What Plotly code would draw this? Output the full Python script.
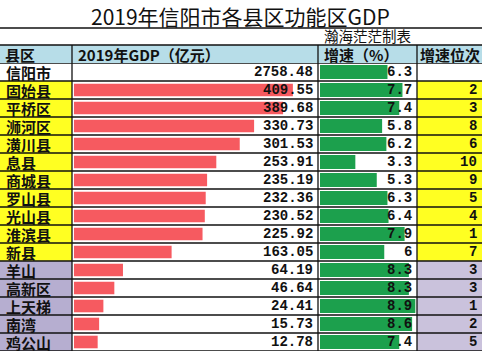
import plotly.graph_objects as go

# ---------------- data ----------------
regions = ["信阳市", "固始县", "平桥区", "浉河区", "潢川县", "息县", "商城县", "罗山县",
           "光山县", "淮滨县", "新县", "羊山", "高新区", "上天梯", "南湾", "鸡公山"]
gdp = [2758.48, 409.55, 389.68, 330.73, 301.53, 253.91, 235.19, 232.36,
       230.52, 225.92, 163.05, 64.19, 46.64, 24.41, 15.73, 12.78]
growth = [6.3, 7.7, 7.4, 5.8, 6.2, 3.3, 5.3, 6.3, 6.4, 7.9, 6.0, 8.3, 8.3, 8.9, 8.6, 7.4]
growth_rank = ["", "2", "3", "8", "6", "10", "9", "5", "4", "1", "7", "3", "3", "1", "2", "5"]
group = ["市"] + ["县"] * 10 + ["区"] * 5

title = "2019年信阳市各县区功能区GDP"
subtitle = "瀚海茫茫制表"
headers = ["县区", "2019年GDP（亿元）", "增速（%）", "增速位次"]

# ---------------- styling ----------------
W, H = 482, 352
col_edges = [0, 72, 318, 417, 482]
row_top, row_h = 63, 18
n = len(regions)

def px(x):
    return x / W

def py(y):
    return (H - y) / H

first_col_colors = {"市": "#FFFFFF", "县": "#FFFF22", "区": "#B6AED0"}
rank_col_colors = {"市": "#FFFFFF", "县": "#FFFF22", "区": "#CAC2DC"}
RED = "#F65A60"
GREEN = "#1CA04D"
BAR_BASE = -35.4  # excel data bars have a minimum length

CJK = "Noto Sans CJK SC"
MONO = "Liberation Mono"

fig = go.Figure()

# first column background cells
fig.add_trace(go.Bar(y=regions, x=[1] * n, orientation="h", width=1,
                     marker=dict(color=[first_col_colors[g] for g in group], line=dict(width=0)),
                     xaxis="x3", yaxis="y", hoverinfo="skip", showlegend=False))
# rank column background cells
fig.add_trace(go.Bar(y=regions, x=[1] * n, orientation="h", width=1,
                     marker=dict(color=[rank_col_colors[g] for g in group], line=dict(width=0)),
                     xaxis="x4", yaxis="y", hoverinfo="skip", showlegend=False))
# GDP data bars (city total has none)
fig.add_trace(go.Bar(y=regions,
                     x=[None if g == "市" else v - BAR_BASE for v, g in zip(gdp, group)],
                     base=BAR_BASE, orientation="h", width=0.7,
                     marker=dict(color=RED, line=dict(width=0)),
                     xaxis="x", yaxis="y", hoverinfo="skip", showlegend=False))
# growth data bars
fig.add_trace(go.Bar(y=regions, x=growth, orientation="h", width=0.78,
                     marker=dict(color=GREEN, line=dict(width=0)),
                     xaxis="x2", yaxis="y", hoverinfo="skip", showlegend=False))

ann = []
for r, v, gr, rk in zip(regions, gdp, growth, growth_rank):
    ann.append(dict(x=px(4), y=r, xref="paper", yref="y", xanchor="left", yanchor="middle",
                    text=f"<b>{r}</b>", showarrow=False,
                    font=dict(family=CJK, size=15, color="#111")))
    ann.append(dict(x=px(315), y=r, xref="paper", yref="y", xanchor="right", yanchor="middle",
                    text=f"<b>{v:.2f}</b>", showarrow=False,
                    font=dict(family=MONO, size=14, color="#111")))
    ann.append(dict(x=px(414), y=r, xref="paper", yref="y", xanchor="right", yanchor="middle",
                    text=f"<b>{gr:g}</b>", showarrow=False,
                    font=dict(family=MONO, size=14, color="#111")))
    if rk:
        ann.append(dict(x=px(479), y=r, xref="paper", yref="y", xanchor="right", yanchor="middle",
                        text=f"<b>{rk}</b>", showarrow=False,
                        font=dict(family=MONO, size=14, color="#111")))

# title, subtitle, headers
ann.append(dict(x=px(240), y=py(15.5), xref="paper", yref="paper", xanchor="center", yanchor="middle",
                text=title, showarrow=False, font=dict(family=CJK, size=21, color="#111")))
ann.append(dict(x=px(322), y=py(35.5), xref="paper", yref="paper", xanchor="left", yanchor="middle",
                text=subtitle, showarrow=False, font=dict(family=CJK, size=14.5, color="#111")))
header_x = [3, 76, 322, 418]
for hx, htxt in zip(header_x, headers):
    ann.append(dict(x=px(hx), y=py(54.5), xref="paper", yref="paper", xanchor="left", yanchor="middle",
                    text=f"<b>{htxt}</b>", showarrow=False,
                    font=dict(family=CJK, size=15, color="#111")))

shapes = []
# header background
shapes.append(dict(type="rect", xref="paper", yref="paper", x0=0, x1=1, y0=py(63), y1=py(45),
                   fillcolor="#B7DDE8", line=dict(width=0), layer="below"))
# horizontal lines
for yy in (28, 45):
    shapes.append(dict(type="line", xref="paper", yref="paper", x0=0, x1=1, y0=py(yy), y1=py(yy),
                       line=dict(color="#111", width=1.3), layer="above"))
for i in range(n + 1):
    shapes.append(dict(type="line", xref="paper", yref="y", x0=0, x1=1, y0=i - 0.5, y1=i - 0.5,
                       line=dict(color="#111", width=1.3), layer="above"))
# vertical lines
for xx in col_edges[1:4]:
    shapes.append(dict(type="line", xref="paper", yref="paper", x0=px(xx), x1=px(xx),
                       y0=py(row_top + row_h * n), y1=py(45),
                       line=dict(color="#111", width=1.3), layer="above"))

hidden = dict(visible=False, showgrid=False, zeroline=False, fixedrange=True)
y_bottom = row_top + row_h * n
fig.update_layout(
    width=W, height=H, margin=dict(l=0, r=0, t=0, b=0),
    paper_bgcolor="white", plot_bgcolor="rgba(0,0,0,0)",
    barmode="overlay", showlegend=False,
    xaxis=dict(domain=[px(72), px(318)], range=[-39.4, 460.6], anchor="y", **hidden),
    xaxis2=dict(domain=[px(318), px(417)], range=[-0.187, 9.057], anchor="y", **hidden),
    xaxis3=dict(domain=[0, px(72)], range=[0, 1], anchor="y", **hidden),
    xaxis4=dict(domain=[px(417), 1], range=[0, 1], anchor="y", **hidden),
    yaxis=dict(domain=[py(y_bottom), py(row_top)], type="category",
               range=[n - 0.5, -0.5], **hidden),
    annotations=ann, shapes=shapes,
)

fig.write_html("out.html")
